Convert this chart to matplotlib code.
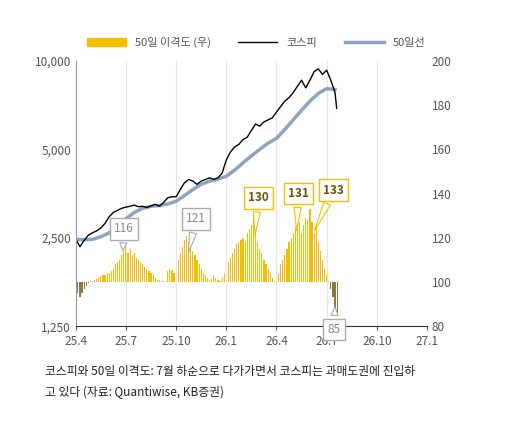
import matplotlib
matplotlib.use("Agg")
import matplotlib.pyplot as plt
import matplotlib.ticker as mt
from matplotlib.lines import Line2D
from matplotlib.patches import Patch

plt.rcParams['font.family'] = ['Noto Sans CJK KR', 'DejaVu Sans']

x_ticks = [0, 3, 6, 9, 12, 15, 18, 21]
x_labels = ['25.4', '25.7', '25.10', '26.1', '26.4', '26.7', '26.10', '27.1']

kospi_x = [i * 0.25 for i in range(63)] + [15.6]
kospi = [2480, 2330, 2450, 2550, 2600, 2640, 2700, 2800, 2950, 3050, 3100, 3150, 3180, 3200, 3230, 3190,
         3200, 3170, 3210, 3250, 3200, 3300, 3420, 3450, 3450, 3650, 3850, 3950, 3900, 3800, 3900, 3950,
         4000, 3950, 4000, 4150, 4600, 4900, 5100, 5200, 5400, 5500, 5800, 6100, 6000, 6200, 6300, 6400,
         6700, 7000, 7300, 7500, 7800, 8200, 8600, 8100, 8600, 9200, 9400, 9000, 9300, 8600, 7800, 6900]
ma_x = [i * 0.5 for i in range(32)]
ma50 = [2470, 2460, 2470, 2520, 2600, 2750, 2900, 3050, 3150, 3200, 3220, 3260, 3330, 3480, 3650, 3800,
        3900, 3960, 4050, 4250, 4500, 4750, 5000, 5250, 5450, 5850, 6300, 6800, 7300, 7750, 8050, 8000]
disp = [98, 95, 93, 95, 97, 98, 99.5, 100.3,
        100.5, 101, 101.5, 102, 102.5, 103, 103, 104,
        104, 105, 106, 108, 109, 110, 112, 114,
        116, 113, 115, 112, 113, 111, 110, 109,
        108, 107, 106, 105, 104, 103, 102, 101,
        101, 100.5, 100.3, 100.2, 105, 106, 105.5, 104,
        108, 110, 113, 116, 119, 121, 118, 116,
        114, 112, 110, 108, 106, 104, 103, 102,
        101, 101.5, 103, 102, 101, 100.5, 102, 104,
        106, 109, 111, 113, 115, 117, 118, 119,
        120, 118, 122, 124, 126, 130, 122, 118,
        115, 113, 110, 108, 106, 104, 102, 100.5,
        97, 104, 108, 110, 112, 115, 118, 120,
        122, 125, 131, 127, 122, 126, 129, 128,
        133, 127, 122, 125, 118, 114, 110, 106,
        103, 100.5, 97, 93, 88, 85]
disp_x = [i / 8 for i in range(len(disp))]

YEL = '#F5BE00'
NEG = '#8C7A3A'
GRAY = '#8A8A8A'

fig = plt.figure(figsize=(5.12, 4.45), dpi=100)
ax = fig.add_axes([0.148, 0.267, 0.686, 0.596])
ax2 = ax.twinx()
ax.set_zorder(ax2.get_zorder() + 1)
ax.patch.set_visible(False)

cols = [YEL if v >= 100 else NEG for v in disp]
ax2.bar(disp_x, [v - 100 for v in disp], bottom=100, width=0.07, color=cols, linewidth=0)
ax2.set_ylim(80, 200)
ax2.set_yticks(range(80, 201, 20))

ax.plot(ma_x, ma50, color='#8FA3BF', lw=2.5)
ax.plot(kospi_x, kospi, color='black', lw=1)
ax.set_yscale('log', base=2)
ax.set_ylim(1250, 10000)
ax.set_yticks([1250, 2500, 5000, 10000])
ax.yaxis.set_major_formatter(mt.FuncFormatter(lambda v, p: f'{int(v):,}'))
ax.yaxis.set_minor_locator(mt.NullLocator())
ax.set_xlim(0, 21)
ax.set_xticks(x_ticks)
ax.set_xticklabels(x_labels)
ax.grid(axis='x', color='#E6E6E6', lw=0.8)
for a in (ax, ax2):
    a.tick_params(labelsize=8.5, colors='#555555', length=3)
    for s in ['top', 'right']:
        a.spines[s].set_visible(False)
ax2.spines['left'].set_visible(False)
ax2.spines['bottom'].set_visible(False)
ax.spines['left'].set_color('#999999')
ax.spines['bottom'].set_color('#333333')
ax2.tick_params(length=0)
ax.tick_params(axis='y', length=0)

def callout(txt, box, tip, yellow):
    ec = YEL if yellow else '#AAAAAA'
    tc = '#6B5300' if yellow else GRAY
    ax.annotate(txt, xy=tip, xytext=box, xycoords=ax2.transData, textcoords=ax2.transData,
                ha='center', va='center', fontsize=8.5, zorder=10,
                color=tc, fontweight='bold' if yellow else 'normal', annotation_clip=False,
                bbox=dict(boxstyle='square,pad=0.35', fc='white', ec=ec, lw=1),
                arrowprops=dict(arrowstyle='wedge,tail_width=0.6,shrink_factor=0.5', fc='white', ec=ec, lw=0.8))

callout('116', (2.9, 124), (2.8, 113), False)
callout('121', (7.2, 128.5), (6.7, 112), False)
callout('130', (10.9, 138), (10.7, 120), True)
callout('131', (13.3, 140), (13.2, 122), True)
callout('133', (15.4, 141.6), (14.2, 122), True)
callout('85', (15.45, 78.6), (15.5, 90), False)

handles = [Patch(color=YEL), Line2D([], [], color='black', lw=1), Line2D([], [], color='#8FA3BF', lw=2.5)]
fig.legend(handles, ['50일 이격도 (우)', '코스피', '50일선'], loc='center', bbox_to_anchor=(0.5, 0.905),
           ncol=3, frameon=False, fontsize=8, handlelength=3.5, columnspacing=2.5, labelcolor='#555555')

fig.text(0.088, 0.142, '코스피와 50일 이격도: 7월 하순으로 다가가면서 코스피는 과매도권에 진입하\n고 있다 (자료: Quantiwise, KB증권)',
         fontsize=8.5, color='#222222', va='center', linespacing=1.7)

fig.savefig('out.png', dpi=100)
